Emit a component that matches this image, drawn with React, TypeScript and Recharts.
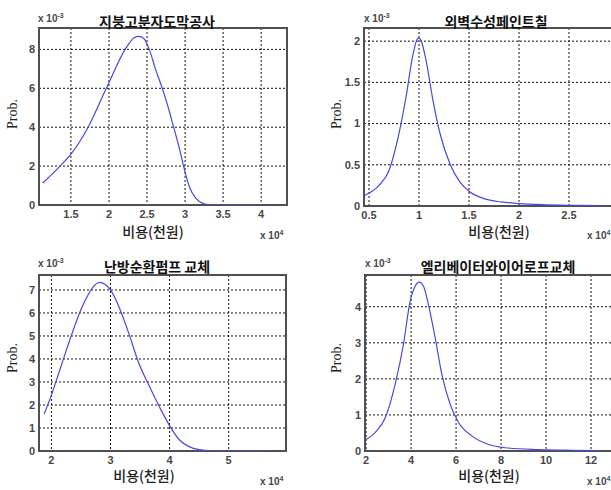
import React from 'react';
import { LineChart, Line, XAxis, YAxis, CartesianGrid, ReferenceArea } from 'recharts';

// 지붕고분자도막공사 (비용 x10^4, 확률 x10^-3)
const roofCost = [1.13, 1.356, 1.5, 1.726, 1.965, 2.213, 2.33, 2.39, 2.46, 2.53, 2.61, 2.7, 2.78, 2.85, 2.92, 2.98, 3.06, 3.14, 3.25, 3.35, 3.7, 4.1];
const roofProb = [1.13, 2.0, 2.62, 4.0, 6.0, 8.0, 8.6, 8.67, 8.55, 8.0, 7.0, 6.0, 5.0, 4.0, 3.0, 2.0, 0.9, 0.35, 0.06, 0.0, 0.0, 0.0];

// 외벽수성페인트칠
const paintCost = [0.46, 0.6, 0.7, 0.8, 0.87, 0.935, 0.985, 1.0, 1.02, 1.07, 1.14, 1.21, 1.31, 1.41, 1.51, 1.65, 1.82, 2.0, 2.23, 2.57, 2.84];
const paintProb = [0.13, 0.25, 0.43, 0.88, 1.32, 1.81, 2.03, 2.04, 2.01, 1.77, 1.28, 0.88, 0.51, 0.29, 0.17, 0.09, 0.05, 0.03, 0.016, 0.008, 0.004];

// 난방순환펌프 교체
const pumpCost = [1.876, 2.0, 2.17, 2.34, 2.51, 2.62, 2.735, 2.82, 2.905, 3.0, 3.13, 3.3, 3.47, 3.66, 3.84, 4.01, 4.16, 4.33, 4.5, 4.72, 5.0, 5.3, 5.65];
const pumpProb = [1.6, 2.43, 3.74, 5.04, 6.2, 6.78, 7.22, 7.33, 7.25, 7.0, 6.35, 5.19, 3.88, 2.8, 1.86, 1.06, 0.5, 0.19, 0.06, 0.01, 0.0, 0.0, 0.0];

// 엘리베이터와이어로프교체
const ropeCost = [2.0, 2.4, 2.85, 3.29, 3.66, 3.96, 4.18, 4.36, 4.55, 4.77, 5.07, 5.37, 5.74, 6.11, 6.7, 7.45, 8.19, 9.67, 11.15, 12.34];
const ropeProb = [0.32, 0.51, 0.92, 1.85, 2.96, 4.16, 4.57, 4.68, 4.57, 4.06, 3.14, 2.12, 1.29, 0.79, 0.42, 0.18, 0.09, 0.04, 0.02, 0.01];

const roofXTicks = [1.5, 2, 2.5, 3, 3.5, 4];
const roofYTicks = [0, 2, 4, 6, 8];
const paintXTicks = [0.5, 1, 1.5, 2, 2.5, 3];
const paintYTicks = [0, 0.5, 1, 1.5, 2];
const pumpXTicks = [2, 3, 4, 5];
const pumpYTicks = [0, 1, 2, 3, 4, 5, 6, 7];
const ropeXTicks = [2, 4, 6, 8, 10, 12];
const ropeYTicks = [0, 1, 2, 3, 4];

const toRows = (xs: number[], ys: number[]) => xs.map((x, i) => ({ cost: x, prob: ys[i] }));

const tickStyle = {
  fontSize: 11,
  fontWeight: 'bold',
  fill: '#474747',
  fontFamily: '"Liberation Sans", Arial, sans-serif',
};

type Box = { x0: number; x1: number; y0: number; y1: number };

function Panel(props: {
  box: Box;
  rows: { cost: number; prob: number }[];
  xDomain: [number, number];
  yDomain: [number, number];
  xTicks: number[];
  yTicks: number[];
}) {
  const { box, rows, xDomain, yDomain, xTicks, yTicks } = props;
  const padL = 40, padT = 10, padR = 10, padB = 30;
  const w = box.x1 - box.x0 + padL + padR;
  const h = box.y1 - box.y0 + padT + padB;
  return (
    <div style={{ position: 'absolute', left: box.x0 - padL, top: box.y0 - padT }}>
      <LineChart width={w} height={h} data={rows} margin={{ top: padT, right: padR, left: 0, bottom: 0 }}>
        <CartesianGrid stroke="#111" strokeDasharray="2 2" />
        <XAxis
          dataKey="cost"
          type="number"
          domain={xDomain}
          ticks={xTicks}
          allowDataOverflow
          interval={0}
          height={padB}
          axisLine={false}
          tickLine={false}
          tickSize={0}
          tickMargin={5}
          tick={tickStyle}
        />
        <YAxis
          type="number"
          domain={yDomain}
          ticks={yTicks}
          allowDataOverflow
          interval={0}
          width={padL}
          axisLine={false}
          tickLine={false}
          tickSize={0}
          tickMargin={4}
          tick={tickStyle}
        />
        <ReferenceArea
          x1={xDomain[0]}
          x2={xDomain[1]}
          y1={yDomain[0]}
          y2={yDomain[1]}
          fill="none"
          stroke="#505050"
          strokeWidth={2}
        />
        <Line
          dataKey="prob"
          type="monotone"
          stroke="#4848e4"
          strokeWidth={1.2}
          dot={false}
          isAnimationActive={false}
        />
      </LineChart>
    </div>
  );
}

const center = (x: number, y: number): React.CSSProperties => ({
  position: 'absolute',
  left: x,
  top: y,
  transform: 'translate(-50%, -50%)',
  whiteSpace: 'nowrap',
  lineHeight: 1,
});

function Labels(props: {
  title: string;
  titleAt: [number, number];
  yExpAt: [number, number];
  yLabelAt: [number, number];
  xLabelAt: [number, number];
  xExpAt: [number, number];
}) {
  const { title, titleAt, yExpAt, yLabelAt, xLabelAt, xExpAt } = props;
  const expStyle: React.CSSProperties = {
    position: 'absolute',
    fontFamily: '"Liberation Sans", Arial, sans-serif',
    fontWeight: 'bold',
    fontSize: 10,
    color: '#474747',
    whiteSpace: 'nowrap',
    lineHeight: '12px',
  };
  const supStyle: React.CSSProperties = { fontSize: 7, verticalAlign: 'top', position: 'relative', top: -3 };
  return (
    <>
      <div style={{ ...center(titleAt[0], titleAt[1]), fontFamily: '"Noto Sans CJK KR", sans-serif', fontWeight: 'bold', fontSize: 14, color: '#111' }}>
        {title}
      </div>
      <div style={{ ...expStyle, left: yExpAt[0], top: yExpAt[1] - 6 }}>
        x 10<sup style={supStyle}>-3</sup>
      </div>
      <div style={{ ...center(yLabelAt[0], yLabelAt[1]), transform: 'translate(-50%, -50%) rotate(-90deg)', fontFamily: '"Liberation Serif", serif', fontSize: 14, color: '#222' }}>
        Prob.
      </div>
      <div style={{ ...center(xLabelAt[0], xLabelAt[1]), fontFamily: '"Noto Sans CJK KR", sans-serif', fontWeight: 500, fontSize: 14, color: '#222' }}>
        비용(천원)
      </div>
      <div style={{ ...expStyle, left: xExpAt[0], top: xExpAt[1] - 6 }}>
        x 10<sup style={supStyle}>4</sup>
      </div>
    </>
  );
}

export default function App() {
  return (
    <div style={{ position: 'fixed', left: 0, top: 0, width: 611, height: 490, overflow: 'hidden', background: '#fff' }}>
      <Panel
        box={{ x0: 39, x1: 287, y0: 28, y1: 205 }}
        rows={toRows(roofCost, roofProb)}
        xDomain={[1.08, 4.34]}
        yDomain={[0, 9.1]}
        xTicks={roofXTicks}
        yTicks={roofYTicks}
      />
      <Labels title="지붕고분자도막공사" titleAt={[157, 21]} yExpAt={[38, 19]} yLabelAt={[13, 114]} xLabelAt={[153, 231]} xExpAt={[260, 236]} />

      <Panel
        box={{ x0: 364, x1: 629, y0: 28, y1: 206 }}
        rows={toRows(paintCost, paintProb)}
        xDomain={[0.45, 3.1]}
        yDomain={[0, 2.16]}
        xTicks={paintXTicks}
        yTicks={paintYTicks}
      />
      <Labels title="외벽수성페인트칠" titleAt={[496, 21]} yExpAt={[364, 19]} yLabelAt={[337, 114]} xLabelAt={[499, 231]} xExpAt={[587, 236]} />

      <Panel
        box={{ x0: 39, x1: 286, y0: 275, y1: 451 }}
        rows={toRows(pumpCost, pumpProb)}
        xDomain={[1.79, 5.97]}
        yDomain={[0, 7.65]}
        xTicks={pumpXTicks}
        yTicks={pumpYTicks}
      />
      <Labels title="난방순환펌프 교체" titleAt={[157, 266]} yExpAt={[38, 264]} yLabelAt={[13, 358]} xLabelAt={[144, 475]} xExpAt={[260, 482]} />

      <Panel
        box={{ x0: 365, x1: 627, y0: 275, y1: 451 }}
        rows={toRows(ropeCost, ropeProb)}
        xDomain={[1.95, 13.6]}
        yDomain={[0, 4.88]}
        xTicks={ropeXTicks}
        yTicks={ropeYTicks}
      />
      <Labels title="엘리베이터와이어로프교체" titleAt={[498, 266]} yExpAt={[365, 264]} yLabelAt={[337, 358]} xLabelAt={[489, 475]} xExpAt={[587, 482]} />
    </div>
  );
}
